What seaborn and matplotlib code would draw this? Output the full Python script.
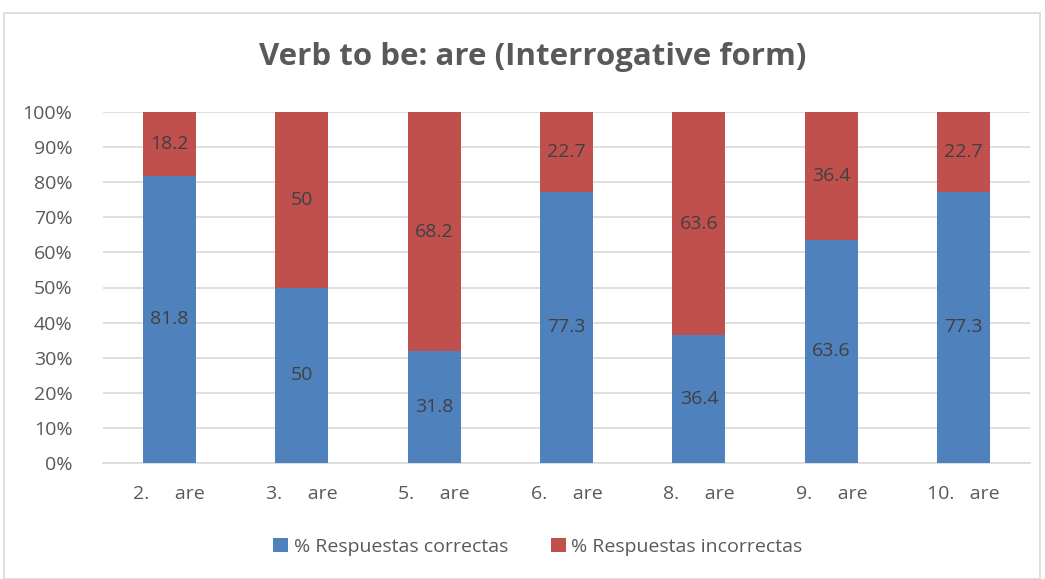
import matplotlib
matplotlib.use("Agg")
import matplotlib.pyplot as plt
import seaborn as sns
import pandas as pd
from matplotlib.patches import Rectangle, Patch

categories = ["2.     are", "3.     are", "5.     are", "6.     are", "8.     are", "9.     are", "10.   are"]
correctas = [81.8, 50, 31.8, 77.3, 36.4, 63.6, 77.3]
incorrectas = [18.2, 50, 68.2, 22.7, 63.6, 36.4, 22.7]
series_names = ["% Respuestas correctas", "% Respuestas incorrectas"]
yticks = [0, 10, 20, 30, 40, 50, 60, 70, 80, 90, 100]

blue = "#4f81bd"
red = "#c0504d"
txt = "#595959"

sns.set_theme(style="white")
plt.rcParams['font.family'] = ['Open Sans', 'DejaVu Sans']

fig = plt.figure(figsize=(10.45, 5.79), dpi=100)
ax = fig.add_axes([103/1045, 1-463/579, 927/1045, (463-112)/579])

df = pd.DataFrame({"cat": categories, "correct": correctas, "incorrect": incorrectas})
df["total"] = df["correct"] + df["incorrect"]

sns.barplot(data=df, x="cat", y="total", color=red, width=0.4, ax=ax, saturation=1,
            linewidth=0, zorder=2)
sns.barplot(data=df, x="cat", y="correct", color=blue, width=0.4, ax=ax, saturation=1,
            linewidth=0, zorder=3)

for i, (c, w) in enumerate(zip(correctas, incorrectas)):
    ax.text(i, c/2, f"{c:g}", ha="center", va="center", fontsize=14, color="#404040", zorder=5)
    ax.text(i, c + w/2, f"{w:g}", ha="center", va="center", fontsize=14, color="#404040", zorder=5)

ax.set_xlim(-0.5, 6.5)
ax.set_ylim(0, 100)
ax.set_yticks(yticks)
ax.set_yticklabels([f"{t}%" for t in yticks], fontsize=14, color=txt)
ax.tick_params(axis="x", labelsize=14, labelcolor=txt, pad=16, length=0)
ax.tick_params(axis="y", length=0, pad=22)
ax.set_xlabel("")
ax.set_ylabel("")
ax.yaxis.grid(True, color="#d9d9d9", linewidth=1.2, zorder=0)
ax.set_axisbelow(True)
for s in ["top", "right", "left"]:
    ax.spines[s].set_visible(False)
ax.spines["bottom"].set_color("#d9d9d9")
ax.spines["bottom"].set_linewidth(1.2)

fig.text(533/1045, 1-57/579, "Verb to be: are (Interrogative form)", ha="center", va="center",
         fontsize=22.5, fontweight="bold", color=txt, family=['Open Sans', 'DejaVu Sans'])

handles = [Patch(facecolor=blue, edgecolor="none"), Patch(facecolor=red, edgecolor="none")]
fig.legend(handles, series_names, loc="center", bbox_to_anchor=(538/1045, 1-547/579), ncol=2,
           frameon=False, fontsize=14, labelcolor=txt, handlelength=0.75, handleheight=0.75,
           handletextpad=0.3, columnspacing=2.2)

fig.patches.append(Rectangle((4/1045, 0.0), 1036/1045, 1-13/579, transform=fig.transFigure,
                             fill=False, edgecolor="#d9d9d9", linewidth=1.2))

fig.savefig("out.png", dpi=100, facecolor="white")
